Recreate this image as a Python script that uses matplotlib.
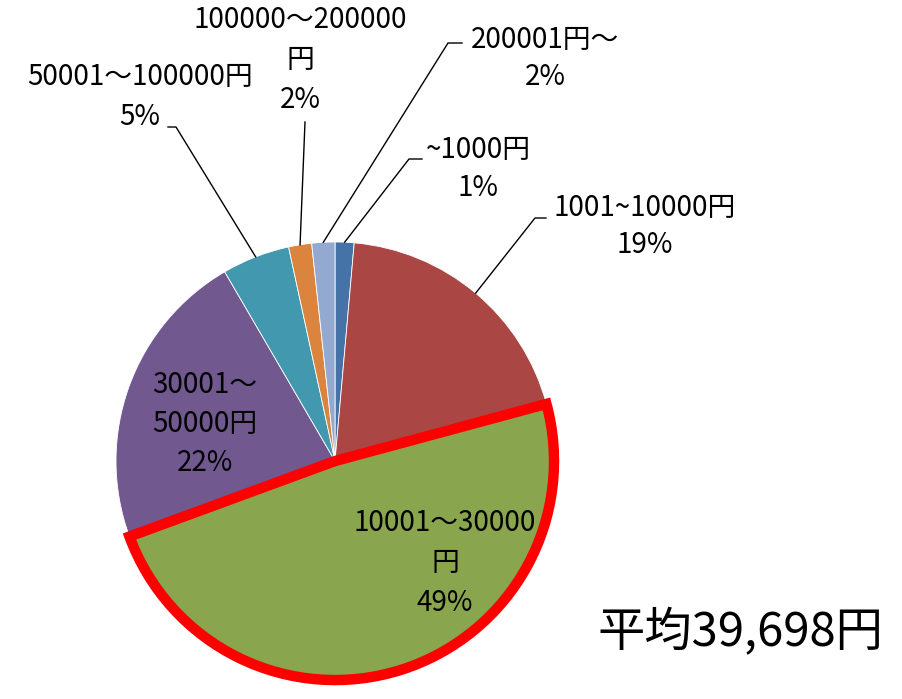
import numpy as np
import matplotlib
matplotlib.use('Agg')
import matplotlib.pyplot as plt

plt.rcParams['font.family'] = ['Noto Sans CJK JP', 'DejaVu Sans']

# data (clockwise from 12 o'clock)
categories = ['~1000円', '1001~10000円', '10001～30000\n円', '30001～\n50000円',
              '50001～100000円', '100000～200000\n円', '200001円～']
values = [1.4, 19.4, 48.6, 22.2, 5.0, 1.7, 1.7]
colors = ['#4572A7', '#AA4643', '#89A54E', '#71588F', '#4198AF', '#DB843D', '#93A9CF']
average_text = '平均39,698円'

W, H = 903, 699
def px(x, y):
    return x, H - y

fig = plt.figure(figsize=(W / 100, H / 100), dpi=100)
ax = fig.add_axes([0, 0, 1, 1])

cx, cy = px(335, 461)
r = 219
explode = [0, 0, 0.055, 0, 0, 0, 0]
wedges, _ = ax.pie(values, colors=colors, startangle=90, counterclock=False,
                   center=(cx, cy), radius=r, explode=explode,
                   wedgeprops=dict(linewidth=0.6, edgecolor='white'))
hl = wedges[2]
hl.set_edgecolor('#FF0000')
hl.set_linewidth(7.5)
hl.set_zorder(5)

ax.set_xlim(0, W)
ax.set_ylim(0, H)
ax.set_aspect('equal')
ax.axis('off')

pct = ['%d%%' % round(v) for v in values]
fs = 20

# label layout: (x center, first line y, line step) in px, leader start, stub end
layout = {
    0: ((478, 150, 38), (422, 159), (409, 159)),
    1: ((645, 208, 37), (546, 218), (535, 218)),
    2: ((445, 523, 40), None, None),
    3: ((205, 385, 39), None, None),
    4: ((140, 77, 40), (168, 127), (176, 127)),
    5: ((300, 20, 40), (305, 122), (305, 122)),
    6: ((545, 40, 37), (462, 43), (448, 43)),
}

for i, w in enumerate(wedges):
    lines = (categories[i] + '\n' + pct[i]).split('\n')
    (tx, ty, step), s0, s1 = layout[i]
    for k, line in enumerate(lines):
        ax.text(*px(tx, ty + k * step), line, ha='center', va='center',
                fontsize=fs, zorder=6)
    if s0 is not None:
        ang = np.deg2rad((w.theta1 + w.theta2) / 2)
        ex, ey = cx + r * np.cos(ang), cy + r * np.sin(ang)
        xs = [px(*s0)[0], px(*s1)[0], ex]
        ys = [px(*s0)[1], px(*s1)[1], ey]
        ax.plot(xs, ys, color='black', lw=1.0, zorder=4)

ax.text(*px(740, 633), average_text, ha='center', va='center', fontsize=34)

fig.savefig('out.png', dpi=100)
